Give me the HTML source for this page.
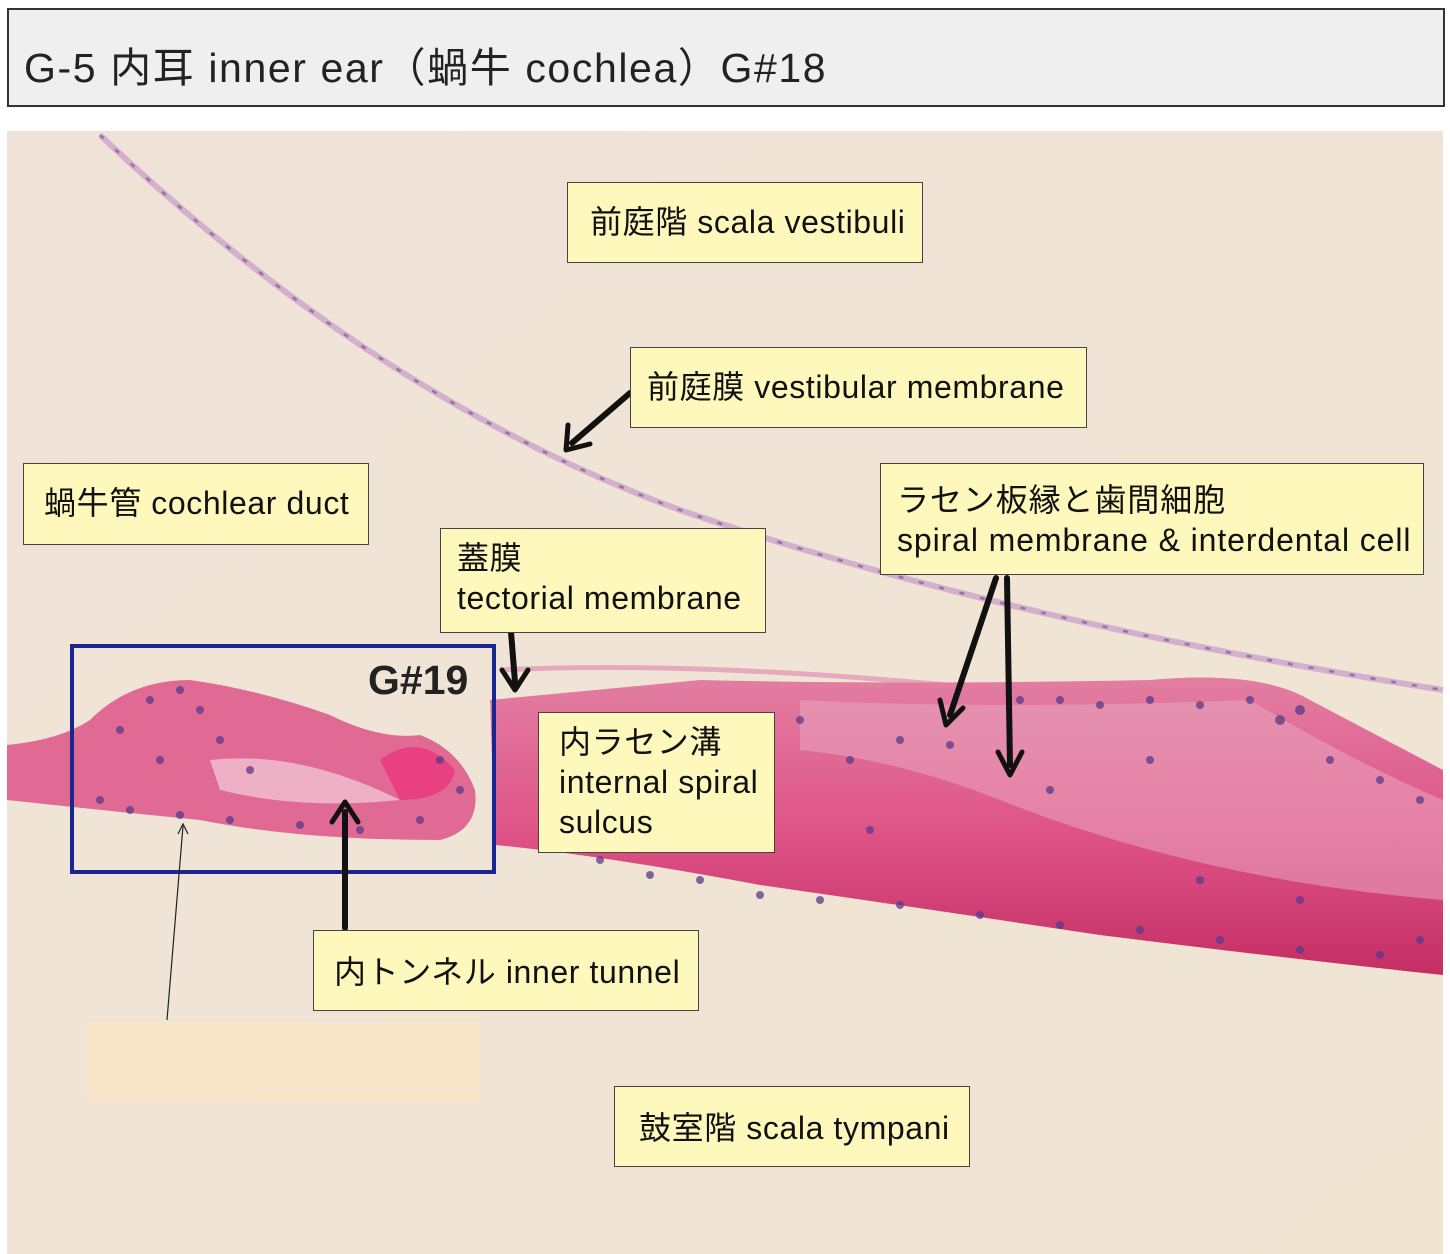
<!DOCTYPE html>
<html><head><meta charset="utf-8"><style>
html,body{margin:0;padding:0;width:1450px;height:1254px;background:#fff;overflow:hidden;}
body{position:relative;font-family:"Liberation Sans","Noto Sans CJK JP",sans-serif;}
.hdr{position:absolute;left:7px;top:8px;width:1434px;height:95px;border:2px solid #333;background:#efefef;}
.hdr span{position:absolute;left:15px;top:24px;font-size:41px;letter-spacing:1.6px;color:#222;white-space:nowrap;}
.lb{position:absolute;background:#fff8bd;border:1.5px solid #444;box-sizing:border-box;font-size:32px;letter-spacing:0.6px;color:#111;line-height:40px;padding:0 16px;white-space:nowrap;}
</style></head><body>
<div class="hdr"><span>G-5 内耳 inner ear（蝸牛 cochlea）G#18</span></div>
<svg style="position:absolute;left:0;top:0" width="1450" height="1254">
<defs>
<linearGradient id="bg" x1="0" y1="0" x2="1" y2="1">
<stop offset="0" stop-color="#efe3d8"/><stop offset="1" stop-color="#f0e5d3"/></linearGradient>
<linearGradient id="tis" x1="0" y1="0" x2="0" y2="1">
<stop offset="0" stop-color="#e27ea2"/><stop offset="0.5" stop-color="#df5588"/><stop offset="1" stop-color="#c42e64"/></linearGradient>
</defs>
<rect x="7" y="131" width="1436" height="1123" fill="url(#bg)"/>
<path d="M100 135 Q 380 400 680 510 Q 1000 620 1443 690" stroke="#d4b0cc" stroke-width="6" fill="none"/>
<path d="M100 135 Q 380 400 680 510 Q 1000 620 1443 690" stroke="#8a5e9a" stroke-width="2.5" stroke-dasharray="5 16" fill="none" opacity="0.8"/>
<path d="M500 670 Q 700 660 1000 690" stroke="#e6aabd" stroke-width="5" fill="none"/>
<path d="M490 700 L700 680 Q900 685 1150 680 Q1260 670 1310 700 L1443 770 L1443 975 Q1300 960 1100 935 Q900 905 760 885 Q600 855 495 845 Z" fill="url(#tis)"/>
<path d="M800 700 Q1000 710 1250 700 Q1350 760 1443 800 L1443 900 Q1200 880 1000 800 Q900 760 800 750 Z" fill="#e9a5bd" opacity="0.55"/>
<path d="M7 745 Q60 740 90 720 Q130 680 190 680 Q260 690 330 715 Q380 740 420 735 Q460 750 475 790 Q480 830 440 840 Q300 840 200 820 Q100 810 7 800 Z" fill="#e06a94"/>
<path d="M380 760 Q420 730 455 770 Q450 800 400 800 Z" fill="#e84080"/>
<path d="M210 760 Q300 750 400 800 Q300 810 220 790 Z" fill="#eeb0c4"/>
<g fill="#5a3a8a" opacity="0.75">
<circle cx="150" cy="700" r="4"/><circle cx="180" cy="690" r="4"/><circle cx="120" cy="730" r="4"/><circle cx="160" cy="760" r="4"/><circle cx="220" cy="740" r="4"/><circle cx="100" cy="800" r="4"/><circle cx="130" cy="810" r="4"/><circle cx="180" cy="815" r="4"/><circle cx="230" cy="820" r="4"/><circle cx="300" cy="825" r="4"/><circle cx="360" cy="830" r="4"/><circle cx="420" cy="820" r="4"/><circle cx="460" cy="790" r="4"/><circle cx="440" cy="760" r="4"/><circle cx="200" cy="710" r="4"/><circle cx="250" cy="770" r="4"/>
<circle cx="800" cy="720" r="4"/><circle cx="850" cy="760" r="4"/><circle cx="900" cy="740" r="4"/><circle cx="950" cy="745" r="4"/><circle cx="1020" cy="700" r="4"/><circle cx="1060" cy="700" r="4"/><circle cx="1100" cy="705" r="4"/><circle cx="1150" cy="700" r="4"/><circle cx="1200" cy="705" r="4"/><circle cx="1250" cy="700" r="4"/><circle cx="1280" cy="720" r="5"/><circle cx="1300" cy="710" r="5"/><circle cx="1330" cy="760" r="4"/><circle cx="1380" cy="780" r="4"/><circle cx="1420" cy="800" r="4"/><circle cx="1150" cy="760" r="4"/><circle cx="1050" cy="790" r="4"/><circle cx="870" cy="830" r="4"/>
<circle cx="600" cy="860" r="4"/><circle cx="650" cy="875" r="4"/><circle cx="700" cy="880" r="4"/><circle cx="760" cy="895" r="4"/><circle cx="820" cy="900" r="4"/><circle cx="900" cy="905" r="4"/><circle cx="980" cy="915" r="4"/><circle cx="1060" cy="925" r="4"/><circle cx="1140" cy="930" r="4"/><circle cx="1220" cy="940" r="4"/><circle cx="1300" cy="950" r="4"/><circle cx="1380" cy="955" r="4"/><circle cx="1420" cy="940" r="4"/><circle cx="1200" cy="880" r="4"/><circle cx="1300" cy="900" r="4"/>
</g>
<rect x="72" y="646" width="422" height="226" fill="none" stroke="#1a2690" stroke-width="4"/>
<text x="368" y="694" font-family="Liberation Sans, sans-serif" font-weight="bold" font-size="41" fill="#222">G#19</text>
<rect x="87" y="1022" width="393" height="80" fill="#f9e6c8"/>
<g stroke="#111" stroke-width="6" fill="none" stroke-linecap="round">
<line x1="630" y1="393" x2="572" y2="443"/>
<line x1="511" y1="632" x2="515" y2="682"/>
<line x1="996" y1="578" x2="950" y2="715"/>
<line x1="1007" y1="578" x2="1010" y2="765"/>
<line x1="345" y1="928" x2="345" y2="812"/>
</g>
<g fill="none" stroke="#111" stroke-width="5" stroke-linecap="round" stroke-linejoin="round">
<polyline points="568,425 566,450 590,444"/>
<polyline points="502,670 515,690 528,670"/>
<polyline points="940,700 946,725 963,708"/>
<polyline points="998,752 1010,775 1022,752"/>
<polyline points="332,822 345,802 358,822"/>
</g>
<line x1="167" y1="1020" x2="183" y2="826" stroke="#222" stroke-width="1.2"/>
<polyline points="178,834 183,824 188,834" stroke="#222" stroke-width="1.2" fill="none"/>
</svg>
<div class="lb" style="left:567px;top:182px;width:356px;height:81px;padding-top:19px;padding-left:22px">前庭階 scala vestibuli</div>
<div class="lb" style="left:630px;top:347px;width:457px;height:81px;padding-top:19px">前庭膜 vestibular membrane</div>
<div class="lb" style="left:23px;top:463px;width:346px;height:82px;padding-top:19px;padding-left:20px">蝸牛管 cochlear duct</div>
<div class="lb" style="left:880px;top:463px;width:544px;height:112px;padding-top:16px;letter-spacing:0.9px">ラセン板縁と歯間細胞<br>spiral membrane &amp; interdental cell</div>
<div class="lb" style="left:440px;top:528px;width:326px;height:105px;padding-top:9px">蓋膜<br>tectorial membrane</div>
<div class="lb" style="left:538px;top:712px;width:237px;height:141px;padding-top:9px;padding-left:20px">内ラセン溝<br>internal spiral<br>sulcus</div>
<div class="lb" style="left:313px;top:930px;width:386px;height:81px;padding-top:21px;padding-left:20px">内トンネル inner tunnel</div>
<div class="lb" style="left:614px;top:1086px;width:356px;height:81px;padding-top:21px;padding-left:24px">鼓室階 scala tympani</div>
</body></html>
